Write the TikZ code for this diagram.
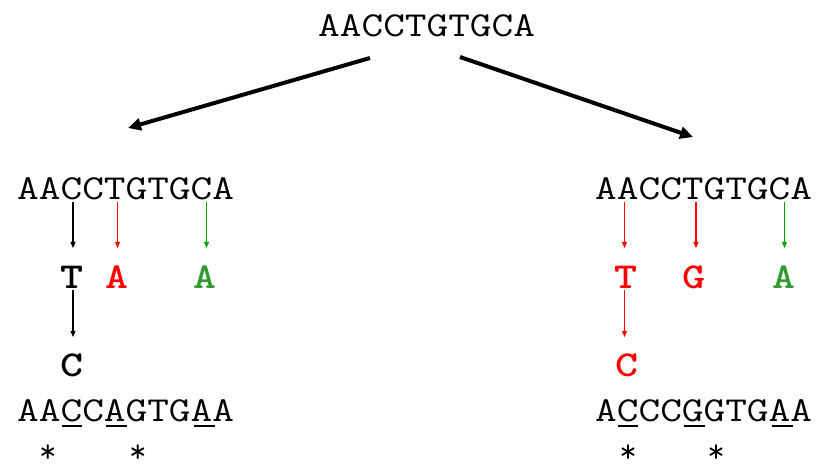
\documentclass[tikz,border=0pt]{standalone}
\usepackage{graphicx}
\usetikzlibrary{arrows.meta}
\definecolor{myred}{RGB}{255,0,0}
\definecolor{mygreen}{RGB}{51,153,51}
\definecolor{lgreen}{RGB}{0,166,0}
\newcommand{\sq}[1]{\scalebox{1.203}[1]{\ttfamily\fontsize{35}{38}\selectfont #1}}
\newcommand{\bl}[1]{\scalebox{1.2}[1]{\ttfamily\bfseries\fontsize{36.5}{40}\selectfont #1}}
\begin{document}
\begin{tikzpicture}[x=1pt,y=-1pt,
  seq/.style={inner sep=0pt,anchor=base west},
  bln/.style={inner sep=0pt,anchor=base},
  st/.style={inner sep=0pt,anchor=base,font=\ttfamily\fontsize{34}{36}\selectfont},
  big/.style={line width=4pt,-{Triangle[length=13pt,width=12pt]}},
  sm/.style={line width=1.1pt,-{Triangle[length=6pt,width=5pt]}},
  ul/.style={line width=2.5pt}]
\useasboundingbox (0,0) rectangle (830,473);
% sequences
\node[seq] (top) at (318,37) {\sq{AACCTGTGCA}};
\node[seq] (L) at (17,199.5) {\sq{AACCTGTGCA}};
\node[seq] (R) at (595,199.5) {\sq{AACCTGTGCA}};
\node[seq] (Lb) at (17,421) {\sq{AACCAGTGAA}};
\node[seq] (Rb) at (595,421) {\sq{ACCCGGTGAA}};
% big arrows
\coordinate (t1) at (370,58);
\coordinate (e1) at (128,128);
\coordinate (t2) at (460,57);
\coordinate (e2) at (693,137);
\draw[big] (t1) -- (e1);
\draw[big] (t2) -- (e2);
% left mutations
\node[bln] (LT) at (72,288) {\bl{T}};
\node[bln,text=myred] (LA1) at (117,288) {\bl{A}};
\node[bln,text=mygreen] (LA2) at (205,288) {\bl{A}};
\node[bln] (LC) at (72,376) {\bl{C}};
\coordinate (la) at (73,202); \coordinate (lb) at (73,248);
\coordinate (lc) at (117.5,202); \coordinate (ld) at (117.5,248);
\coordinate (le) at (206.5,202); \coordinate (lf) at (206.5,248);
\coordinate (lg) at (73,290); \coordinate (lh) at (73,337);
\draw[sm] (la) -- (lb);
\draw[sm,myred] (lc) -- (ld);
\draw[sm,lgreen] (le) -- (lf);
\draw[sm] (lg) -- (lh);
% right mutations
\node[bln,text=myred] (RT) at (626,288) {\bl{T}};
\node[bln,text=myred] (RG) at (694,288) {\bl{G}};
\node[bln,text=mygreen] (RA) at (783.5,288) {\bl{A}};
\node[bln,text=myred] (RC) at (626.5,376) {\bl{C}};
\coordinate (ra) at (624.5,202); \coordinate (rb) at (624.5,248);
\coordinate (rc) at (696,202); \coordinate (rd) at (696,248);
\coordinate (re) at (784.5,202); \coordinate (rf) at (784.5,248);
\coordinate (rg) at (624.5,290); \coordinate (rh) at (624.5,337);
\draw[sm,myred] (ra) -- (rb);
\draw[sm,myred] (rc) -- (rd);
\draw[sm,lgreen] (re) -- (rf);
\draw[sm,myred] (rg) -- (rh);
% underlines
\draw[ul] (62,426) -- (82,426);
\draw[ul] (106,426) -- (127,426);
\draw[ul] (194,426) -- (215,426);
\draw[ul] (618,426) -- (638,426);
\draw[ul] (684,426) -- (705,426);
\draw[ul] (772,426) -- (793,426);
% stars
\node[st] (s1) at (48,462) {*};
\node[st] (s2) at (138,462) {*};
\node[st] (s3) at (628,462) {*};
\node[st] (s4) at (716,462) {*};
\end{tikzpicture}
\end{document}
